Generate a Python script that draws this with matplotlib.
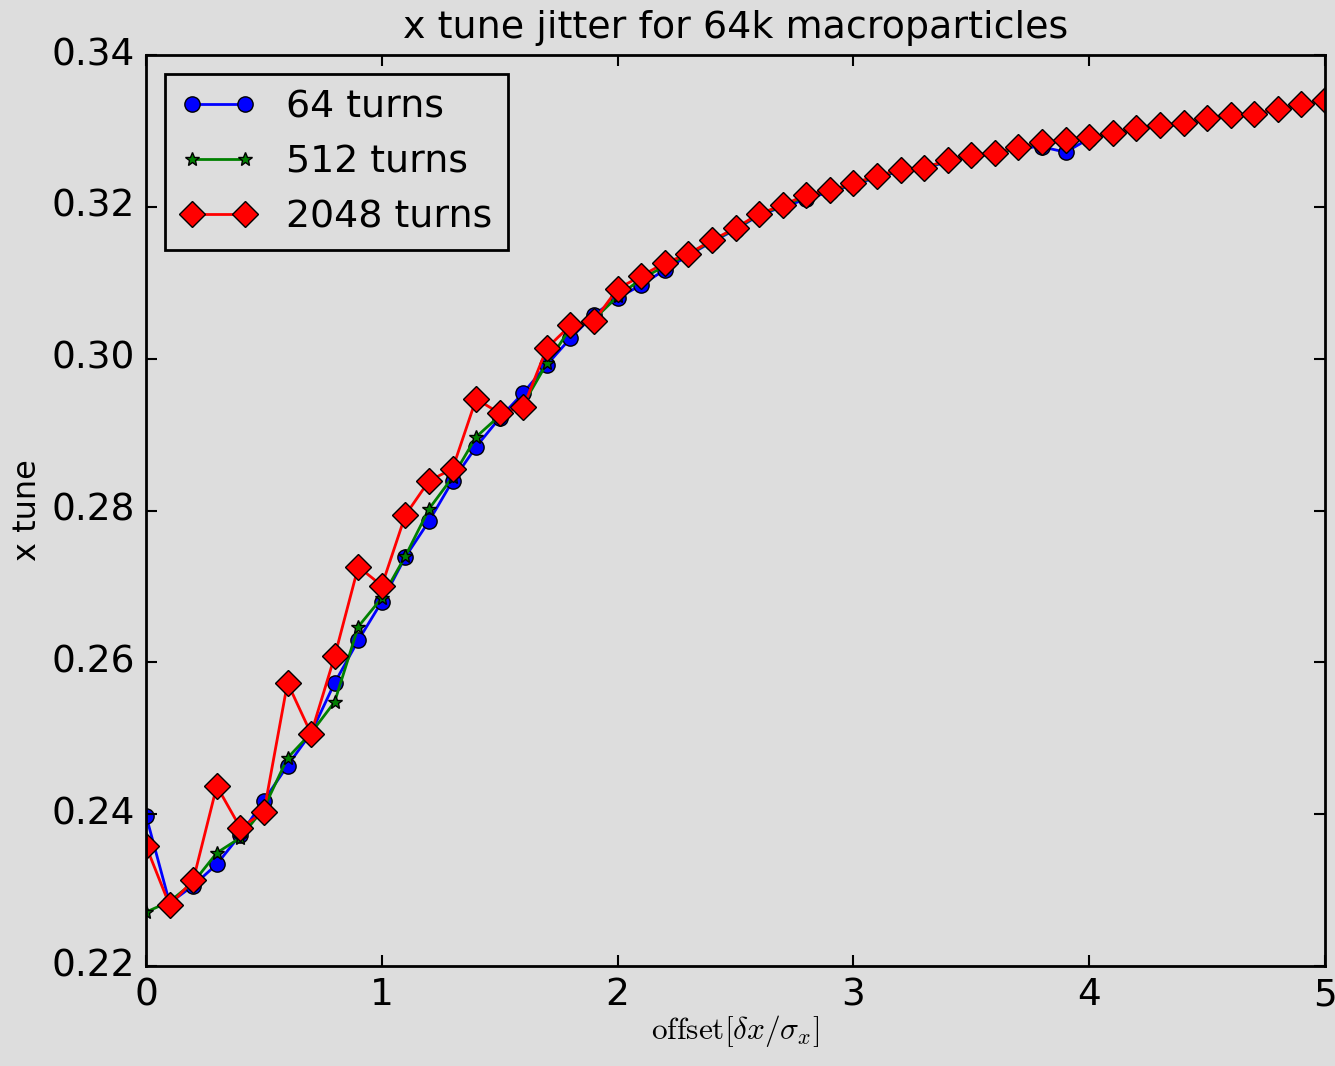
import matplotlib
matplotlib.use("Agg")
import matplotlib.pyplot as plt
import numpy as np

plt.style.use("classic")
plt.rcParams["mathtext.fontset"] = "cm"

offset = [round(0.1 * i, 1) for i in range(51)]

tune_2048 = [0.2358, 0.2280, 0.2313, 0.2437, 0.2382, 0.2403, 0.2573, 0.2506, 0.2608, 0.2726,
             0.2701, 0.2794, 0.2839, 0.2855, 0.2947, 0.2928, 0.2936, 0.3014, 0.3044, 0.3050,
             0.3092, 0.3109, 0.3126, 0.3138, 0.3156, 0.3172, 0.3191, 0.3202, 0.3216, 0.3222,
             0.3231, 0.3241, 0.3249, 0.3251, 0.3262, 0.3268, 0.3271, 0.3279, 0.3285, 0.3288,
             0.3292, 0.3297, 0.3304, 0.3308, 0.3310, 0.3317, 0.3321, 0.3322, 0.3329, 0.3335,
             0.3341]

tune_64 = [0.2398, 0.2283, 0.2306, 0.2334, 0.2373, 0.2418, 0.2464, 0.2507, 0.2573, 0.2629,
           0.2680, 0.2739, 0.2786, 0.2839, 0.2884, 0.2922, 0.2955, 0.2992, 0.3027, 0.3058,
           0.3080, 0.3097, 0.3117, 0.3136, 0.3154, 0.3170, 0.3189, 0.3200, 0.3210, 0.3220,
           0.3229, 0.3239, 0.3247, 0.3250, 0.3260, 0.3266, 0.3270, 0.3278, 0.3279, 0.3272,
           0.3290, 0.3296, 0.3302, 0.3306, 0.3309, 0.3315, 0.3320, 0.3321, 0.3328, 0.3334,
           0.3340]

tune_512 = [0.2271, 0.2285, 0.2310, 0.2349, 0.2369, 0.2408, 0.2474, 0.2507, 0.2548, 0.2647,
            0.2685, 0.2740, 0.2802, 0.2844, 0.2897, 0.2925, 0.2940, 0.2994, 0.3040, 0.3052,
            0.3082, 0.3105, 0.3122, 0.3137, 0.3155, 0.3171, 0.3190, 0.3201, 0.3214, 0.3221,
            0.3230, 0.3240, 0.3248, 0.3251, 0.3261, 0.3267, 0.3270, 0.3278, 0.3284, 0.3287,
            0.3291, 0.3296, 0.3303, 0.3307, 0.3310, 0.3316, 0.3320, 0.3322, 0.3328, 0.3334,
            0.3340]

bg = "#dddddd"
fig = plt.figure(figsize=(13.35, 10.66), dpi=100, facecolor=bg)
ax = fig.add_axes([0.1094, 0.0938, 0.8831, 0.8546], facecolor=bg)

ax.plot(offset, tune_64, "-o", color="b", lw=2, ms=11, mec="k", mew=1, label="64 turns")
ax.plot(offset, tune_512, "-*", color="g", lw=2, ms=10, mec="k", mew=1, label="512 turns")
ax.plot(offset, tune_2048, "-D", color="r", lw=2, ms=13, mec="k", mew=1, label="2048 turns")

ax.set_xlim(0, 5)
ax.set_ylim(0.22, 0.34)
ax.set_xticks([0, 1, 2, 3, 4, 5])
ax.set_yticks(np.arange(0.22, 0.3401, 0.02))
ax.yaxis.set_major_formatter(matplotlib.ticker.FormatStrFormatter("%.2f"))
ax.tick_params(labelsize=27, width=1.5, length=8, pad=8)
for s in ax.spines.values():
    s.set_linewidth(2)

ax.set_title("x tune jitter for 64k macroparticles", fontsize=27.4, pad=12)
ax.set_ylabel("x tune", fontsize=23, labelpad=6)
ax.set_xlabel(r"$\mathrm{offset}[\delta x/\sigma_x]$", fontsize=22.5, labelpad=0)

leg = ax.legend(loc="upper left", fontsize=27.3, numpoints=2, fancybox=False,
                borderaxespad=0.5, handlelength=2.0, framealpha=1)
leg.get_frame().set_facecolor(bg)
leg.get_frame().set_edgecolor("k")
leg.get_frame().set_linewidth(2)

fig.savefig("out.png", dpi=100, facecolor=bg)
